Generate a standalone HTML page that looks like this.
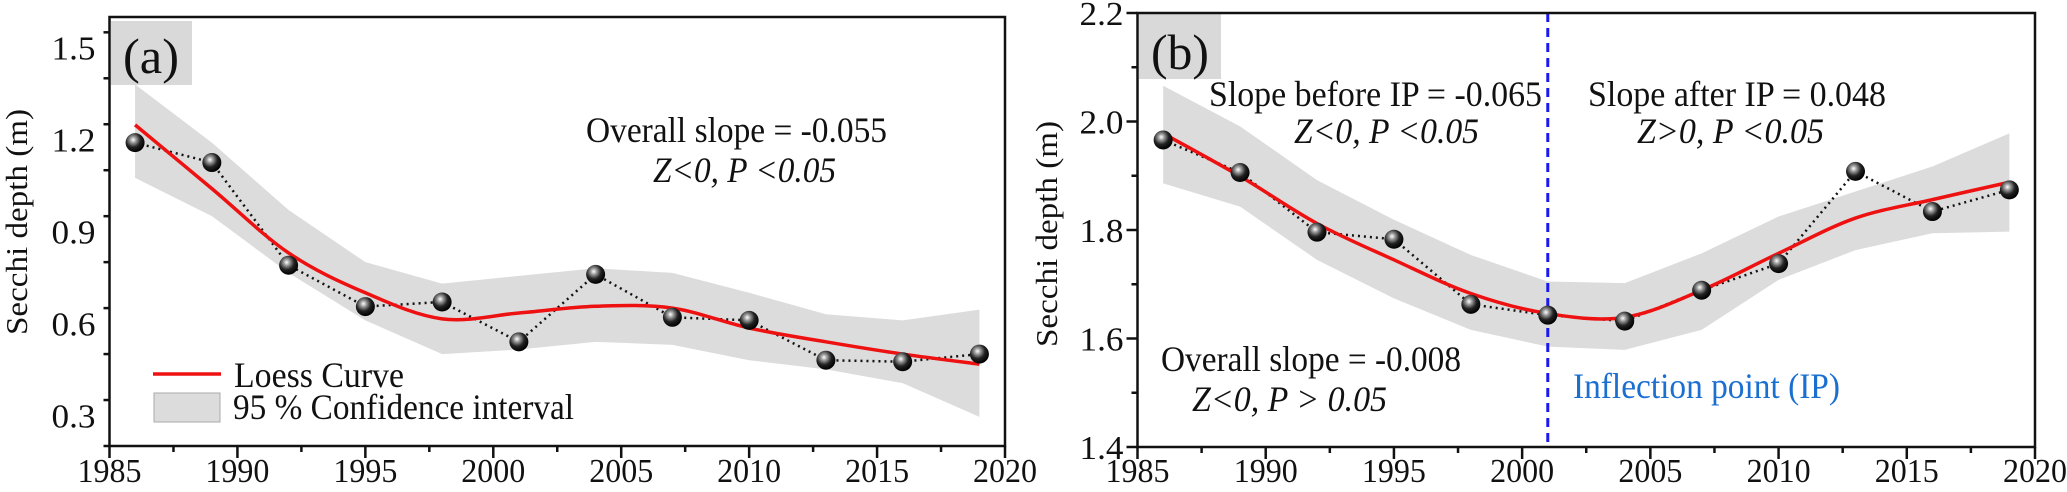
<!DOCTYPE html>
<html><head><meta charset="utf-8"><style>
html,body{margin:0;padding:0;background:#fff;width:2067px;height:492px;overflow:hidden}
svg text{font-family:"Liberation Serif",serif;fill:#111}
</style></head><body>
<svg id="fig" width="2067" height="492" viewBox="0 0 2067 492" xmlns="http://www.w3.org/2000/svg">
<defs>
<radialGradient id="ball" cx="0.4" cy="0.35" r="0.65">
<stop offset="0" stop-color="#ffffff"/><stop offset="0.25" stop-color="#9a9a9a"/><stop offset="0.6" stop-color="#222"/><stop offset="1" stop-color="#000"/>
</radialGradient>
</defs>
</svg>
<script>
const years=[1986,1989,1992,1995,1998,2001,2004,2007,2010,2013,2016,2019];
const aObs=[1.19,1.125,0.79,0.655,0.67,0.54,0.76,0.62,0.61,0.48,0.475,0.50];
const aLoess=[1.248,1.04,0.83,0.70,0.615,0.634,0.656,0.65,0.585,0.54,0.50,0.467];
const aUpper=[1.38,1.19,0.97,0.80,0.73,0.755,0.78,0.765,0.70,0.63,0.61,0.645];
const aLower=[1.075,0.95,0.765,0.61,0.50,0.515,0.54,0.53,0.48,0.45,0.405,0.295];
const bObs=[1.966,1.906,1.796,1.783,1.663,1.643,1.632,1.689,1.738,1.908,1.834,1.874];
const bLoess=[1.978,1.899,1.812,1.745,1.683,1.646,1.639,1.689,1.757,1.822,1.856,1.888];
const bUpper=[2.066,1.991,1.892,1.819,1.754,1.705,1.702,1.757,1.825,1.871,1.917,1.978];
const bLower=[1.886,1.843,1.745,1.674,1.616,1.585,1.579,1.616,1.708,1.763,1.794,1.797];
const xTicks=[1985,1990,1995,2000,2005,2010,2015,2020];
const aYTicks=[0.3,0.6,0.9,1.2,1.5];
const bYTicks=[1.4,1.6,1.8,2.0,2.2];
const ipYear=2001;

const NS="http://www.w3.org/2000/svg";
const svg=document.getElementById('fig');
function mk(tag,attrs,parent){const e=document.createElementNS(NS,tag);for(const k in attrs)e.setAttribute(k,attrs[k]);(parent||svg).appendChild(e);return e;}
function txt(s,x,y,size,opts,parent){opts=opts||{};const e=mk('text',{x:x,y:y,'font-size':size},parent);
 if(opts.anchor)e.setAttribute('text-anchor',opts.anchor);
 if(opts.italic)e.setAttribute('font-style','italic');
 if(opts.width){e.setAttribute('textLength',opts.width);e.setAttribute('lengthAdjust','spacingAndGlyphs');}
 if(opts.fill)e.setAttribute('style','fill:'+opts.fill);
 if(opts.transform)e.setAttribute('transform',opts.transform);
 if(opts.weight)e.setAttribute('font-weight',opts.weight);
 e.textContent=s;return e;}

function panel(cfg){
 const g=mk('g',{});
 
 
 const X=v=>cfg.L+(v-1985)/(2020-1985)*(cfg.R-cfg.L);
 const Y=v=>cfg.B-(v-cfg.ymin)/(cfg.ymax-cfg.ymin)*(cfg.B-cfg.T);
 const lb=mk('rect',{x:cfg.lbx,y:cfg.lby,width:cfg.lbw,height:cfg.lbh,fill:'#d9d9d9'},g);
 
 
 let d='';years.forEach((yr,i)=>{d+=(i?'L':'M')+X(yr)+','+Y(cfg.upper[i]);});
 for(let i=years.length-1;i>=0;i--)d+='L'+X(years[i])+','+Y(cfg.lower[i]);
 const band=mk('path',{d:d+'Z',fill:'#dcdcdc','stroke-linejoin':'round'},g);
 
 
 const op=mk('polyline',{points:years.map((yr,i)=>X(yr)+','+Y(cfg.obs[i])).join(' '),fill:'none',stroke:'#111','stroke-width':2.5,'stroke-dasharray':'2 4'},g);
 
 
 const pts=years.map((yr,i)=>[X(yr),Y(cfg.loess[i])]);
 let ld='M'+pts[0][0]+','+pts[0][1];
 for(let i=0;i<pts.length-1;i++){const p0=pts[i-1]||pts[i],p1=pts[i],p2=pts[i+1],p3=pts[i+2]||p2;
  ld+='C'+(p1[0]+(p2[0]-p0[0])/6)+','+(p1[1]+(p2[1]-p0[1])/6)+' '+(p2[0]-(p3[0]-p1[0])/6)+','+(p2[1]-(p3[1]-p1[1])/6)+' '+p2[0]+','+p2[1];}
 const lc=mk('path',{d:ld,fill:'none',stroke:'#ee1111','stroke-width':3.5},g);
 
 
 if(cfg.ip){const ipl=mk('line',{x1:X(ipYear),x2:X(ipYear),y1:cfg.T,y2:cfg.B-3,stroke:'#1a1aee','stroke-width':3,'stroke-dasharray':'9 6'},g);
  
  }
 years.forEach((yr,i)=>{const c=mk('circle',{cx:X(yr),cy:Y(cfg.obs[i]),r:9.5,fill:'url(#ball)'},g);
  
  });
 const fr=mk('rect',{x:cfg.L,y:cfg.T,width:cfg.R-cfg.L,height:cfg.B-cfg.T,fill:'none',stroke:'#111','stroke-width':2.5},g);
 
 
 xTicks.forEach((t,i)=>{mk('line',{x1:X(t),x2:X(t),y1:cfg.B,y2:cfg.B+12,stroke:'#111','stroke-width':2.5},g);
  if(i<xTicks.length-1)mk('line',{x1:X(t+2.5),x2:X(t+2.5),y1:cfg.B,y2:cfg.B+6,stroke:'#111','stroke-width':2.5},g);
  const tl=txt(String(t),X(t),482,34,{anchor:'middle',width:64},g);
  
  });
 const step=cfg.yt[1]-cfg.yt[0];
 for(let v=cfg.ymin;v<=cfg.ymax+1e-9;v+=step/2){const major=cfg.yt.some(t=>Math.abs(t-v)<1e-6);
  mk('line',{x1:cfg.L,x2:cfg.L-(major?11:6),y1:Y(v),y2:Y(v),stroke:'#111','stroke-width':2.5},g);}
 cfg.yt.forEach(t=>{const tl=txt(t.toFixed(1),cfg.L-14,Y(t)+12,34,{anchor:'end',width:44},g);
  
  });
 const yl=txt('Secchi depth (m)',0,0,31,{anchor:'middle',width:226,transform:'translate('+cfg.ylx+','+cfg.yly+') rotate(-90)'},g);
 
 
 return g;
}
const ga=panel({name:'panel-a',L:109.5,R:1005,T:17,B:446,ymin:0.2,ymax:1.6,yt:aYTicks,obs:aObs,loess:aLoess,upper:aUpper,lower:aLower,lbx:111,lby:21,lbw:81,lbh:64,ylx:27,yly:222});
const gb=panel({name:'panel-b',L:1137.5,R:2035,T:13,B:447,ymin:1.4,ymax:2.2,yt:bYTicks,obs:bObs,loess:bLoess,upper:bUpper,lower:bLower,ip:true,lbx:1139,lby:13,lbw:82,lbh:66,ylx:1057,yly:234});

let t;
t=txt('(a)',151,73,50,{anchor:'middle',width:56},ga);


t=txt('Overall slope = -0.055',586,142,36,{width:301},ga);


t=txt('Z<0, P <0.05',653,182,36,{italic:true,width:183},ga);


const lgl=mk('line',{x1:153,x2:221,y1:374,y2:374,stroke:'#ee1111','stroke-width':3.5},ga);


t=txt('Loess Curve',234,387,36,{width:170},ga);


const lgb=mk('rect',{x:154,y:393,width:66,height:29,fill:'#dcdcdc',stroke:'#aaa','stroke-width':1},ga);


t=txt('95 % Confidence interval',233,419,36,{width:341},ga);



t=txt('(b)',1180,69,50,{anchor:'middle',width:58},gb);


t=txt('Slope before IP = -0.065',1209,106,36,{width:333},gb);


t=txt('Z<0, P <0.05',1294,143,36,{italic:true,width:185},gb);


t=txt('Slope after IP = 0.048',1588,106,36,{width:298},gb);


t=txt('Z>0, P <0.05',1637,143,36,{italic:true,width:187},gb);


t=txt('Overall slope = -0.008',1161,371,36,{width:300},gb);


t=txt('Z<0, P > 0.05',1192,411,36,{italic:true,width:195},gb);


t=txt('Inflection point (IP)',1573,398,36,{width:267,fill:'#1a6fd0'},gb);


</script>
</body></html>
